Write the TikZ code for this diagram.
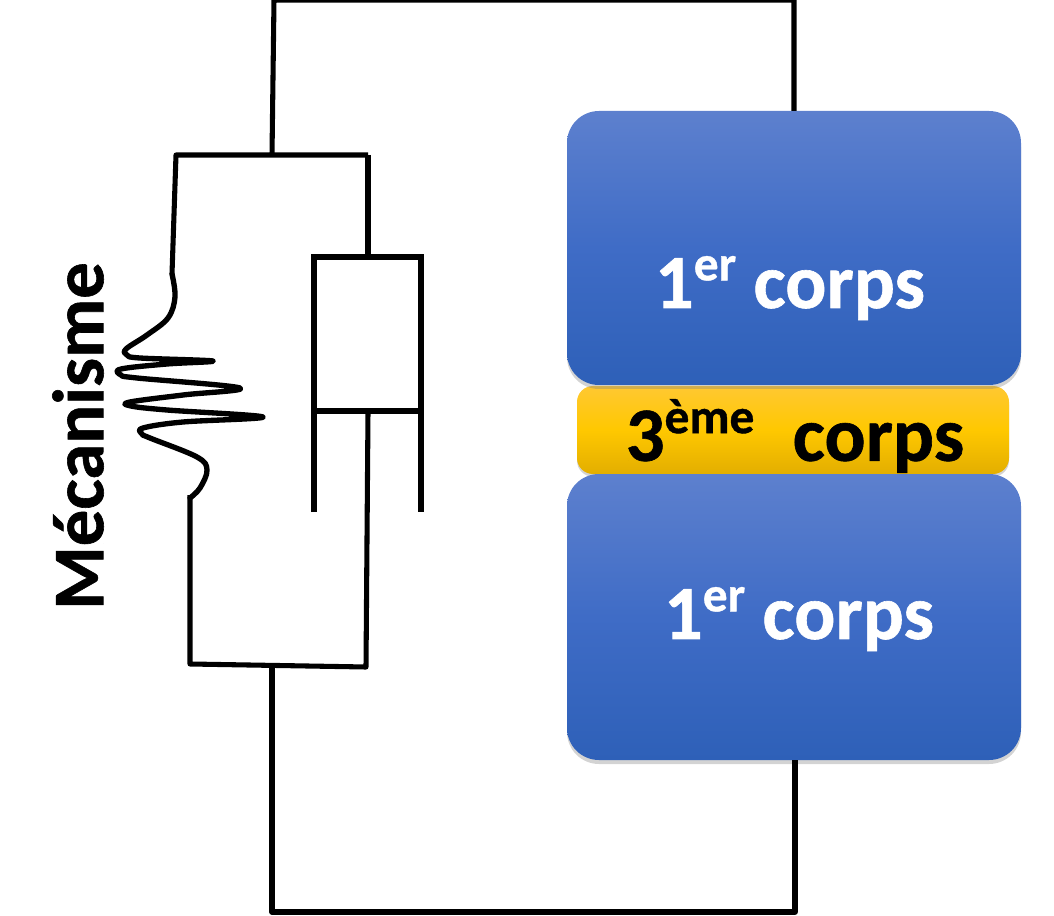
\documentclass[tikz,border=0pt]{standalone}
\usepackage{fontspec}
\setmainfont[BoldFeatures={FakeBold=0.8}]{Carlito}
\usetikzlibrary{shadows}
\definecolor{blue_top}{HTML}{5D80CE}
\definecolor{blue_mid}{HTML}{3F6CC6}
\definecolor{blue_low}{HTML}{2E60B8}
\definecolor{gold_top}{HTML}{FFC832}
\definecolor{gold_mid}{HTML}{FFC800}
\definecolor{gold_low}{HTML}{E3AE00}
\newcommand{\raisedtext}[1]{\raisebox{0.36em}{\fontsize{37}{40}\selectfont #1}}
\tikzset{
	wire/.style = {
		draw=black,
		line width=3.8pt,
		line join=round
	},
	wire_spring/.style = {
		draw=black,
		line width=4pt,
		line join=round,
		line cap=round
	},
	wire_pot/.style = {
		draw=black,
		line width=4.4pt
	},
	node_body/.style = {
		rectangle,
		rounded corners=24pt,
		minimum width=340.5pt,
		top color=blue_top,
		bottom color=blue_low,
		middle color=blue_mid,
		drop shadow={shadow xshift=0pt,shadow yshift=-3pt,opacity=0.35},
		inner sep=0pt
	},
	node_third/.style = {
		rectangle,
		rounded corners=12pt,
		minimum width=324pt,
		minimum height=66pt,
		top color=gold_top,
		bottom color=gold_low,
		middle color=gold_mid,
		drop shadow={shadow xshift=0pt,shadow yshift=-2pt,opacity=0.35},
		inner sep=0pt
	},
	text_body/.style = {
		font=\bfseries\fontsize{57.5}{66}\selectfont,
		inner sep=0pt
	},
	node_label/.style = {
		rotate=90,
		font=\bfseries\fontsize{54.5}{62}\selectfont,
		inner sep=0pt
	}
}
\begin{document}
\begin{tikzpicture}[x=0.75pt,y=-0.75pt]
\useasboundingbox (0,0) rectangle (1054,916);
% third body first, the blue ones sit over it
\node [node_third] (third) at (793,430) {};
\node [node_body, minimum height=205.5pt] (body_up) at (794,248) {};
\node [node_body, minimum height=214.5pt] (body_down) at (794,617) {};
\node [text_body, white] (text_up) at (790,288) {1\raisedtext{er} corps};
\node [text_body, white] (text_down) at (799,619) {1\raisedtext{er} corps};
\node [text_body, black] (text_third) at (795,436) {3\raisedtext{ème}\hspace{0.5em}corps};
\node [node_label] (label) at (78,436) {Mécanisme};
% circuit
\coordinate (top_in) at (272,155);
\coordinate (low_in) at (272,666);
\draw [wire] (top_in) -- (274,0) -- (794,0) -- (794,111);
\draw [wire] (low_in) -- (272,912) -- (795,912) -- (795,760);
% spring branch
\coordinate (rod_top) at (368,155);
\coordinate (rod_low) at (368,412);
\draw [wire] (rod_top) -- (176,155) -- (172,274);
\draw [wire_spring] plot [smooth, tension=0.6] coordinates {
	(172,274) (175,297) (168,318) (147,335) (126,349) (127,355) (140,358) (213,361)
	(167,364) (121,369) (121,375) (137,378) (240,388) (183,395) (130,402) (131,406) (167,410)
	(263,417) (183,422) (143,428) (142,434) (150,438) (197,457) (207,470) (200,488) (190,498)
};
\draw [wire] (190,495) -- (190,664) -- (366,667) -- (rod_low);
% damper
\coordinate (pot_tl) at (314,257);
\coordinate (pot_tr) at (421,257);
\coordinate (pot_bl) at (314,411);
\coordinate (pot_br) at (421,411);
\draw [wire] (rod_top) -- (368,257);
\draw [wire_pot] (314,512) -- (pot_tl) -- (pot_tr) -- (421,512);
\draw [wire_pot] (pot_bl) -- (pot_br);
\end{tikzpicture}
\end{document}
